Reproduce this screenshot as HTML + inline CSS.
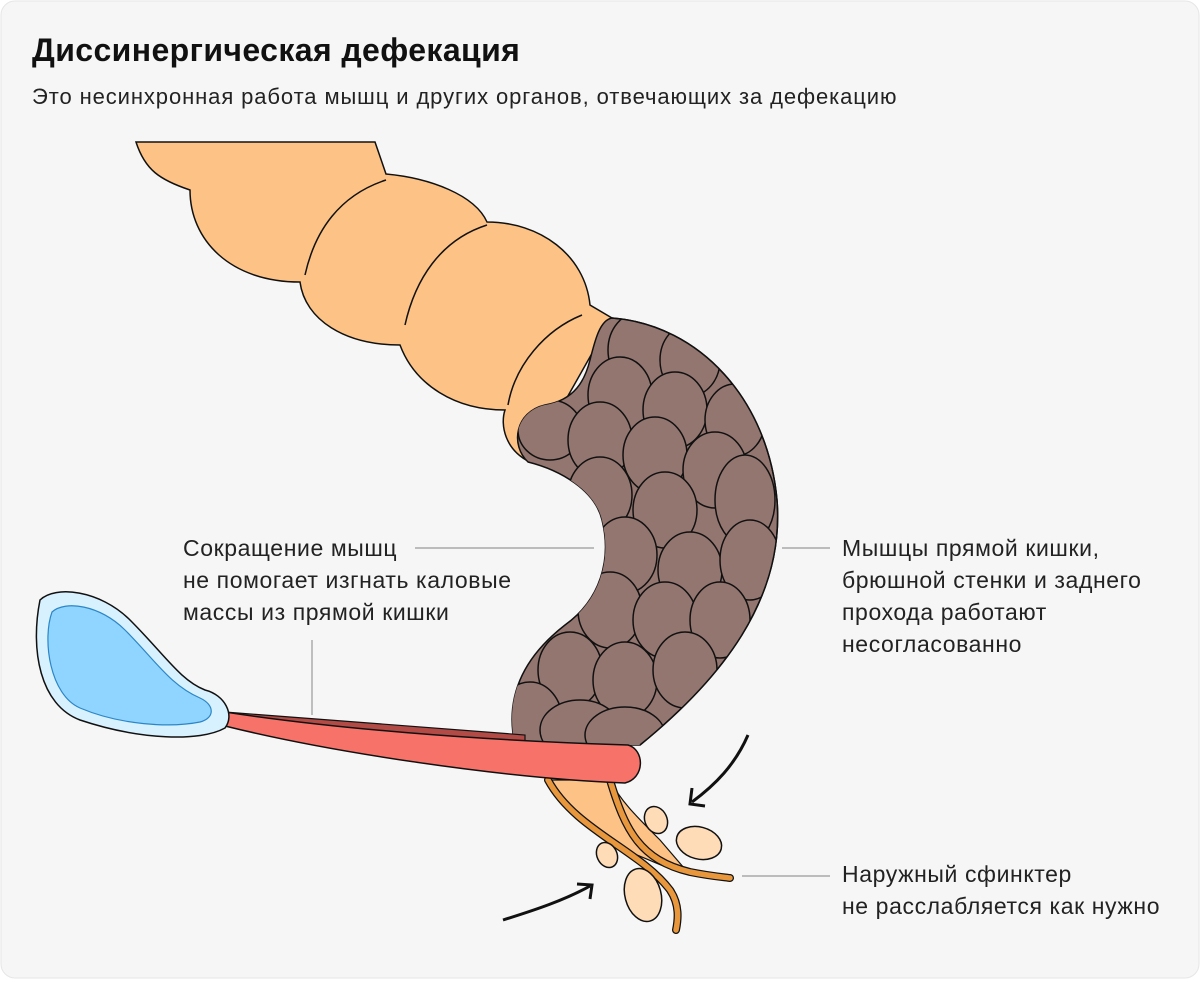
<!DOCTYPE html>
<html><head><meta charset="utf-8"><style>
body{margin:0;background:#fff;}
.wrap{width:1200px;height:979px;position:relative;font-family:"Liberation Sans",sans-serif;}
</style></head><body><div class="wrap">
<svg width="1200" height="979" viewBox="0 0 1200 979" xmlns="http://www.w3.org/2000/svg" font-family="Liberation Sans, sans-serif">
<rect x="1" y="1" width="1198" height="977" rx="14" fill="#f6f6f6" stroke="#e6e6e6"/>
<text x="32" y="61" font-size="32" font-weight="bold" fill="#111" letter-spacing="0.4">Диссинергическая дефекация</text>
<text x="32" y="104" font-size="22" fill="#222" letter-spacing="0.9">Это несинхронная работа мышц и других органов, отвечающих за дефекацию</text>

<path d="M136,142 L375,142 L386,174 C430,178 475,195 487,222 C540,222 585,255 590,305 L612,318 L560,410 L530,462 C505,450 500,425 505,410 C455,410 415,385 400,345 C345,345 305,320 300,282 C230,282 190,240 190,190 C160,180 145,170 136,142 Z" fill="#fdc285" stroke="#111" stroke-width="1.5"/>
<path d="M386,180 C340,195 315,230 305,275" fill="none" stroke="#111" stroke-width="1.5"/>
<path d="M487,225 C440,240 415,280 405,325" fill="none" stroke="#111" stroke-width="1.5"/>
<path d="M582,315 C545,330 515,365 508,405" fill="none" stroke="#111" stroke-width="1.5"/>

<defs><clipPath id="cb"><path d="M612,318 C700,325 768,400 777,500 C785,600 720,680 640,745 L515,745 C505,700 520,660 565,625 C600,600 612,560 602,520 C595,490 560,470 528,462 C510,445 515,412 545,405 C575,400 585,380 590,360 C595,340 600,320 612,318 Z"/></clipPath></defs>
<path d="M612,318 C700,325 768,400 777,500 C785,600 720,680 640,745 L515,745 C505,700 520,660 565,625 C600,600 612,560 602,520 C595,490 560,470 528,462 C510,445 515,412 545,405 C575,400 585,380 590,360 C595,340 600,320 612,318 Z" fill="#947670" stroke="#111" stroke-width="1.5"/>
<g clip-path="url(#cb)" fill="#947670" stroke="#111" stroke-width="1.5">
<ellipse cx="640" cy="350" rx="32" ry="38"/><ellipse cx="690" cy="360" rx="30" ry="36"/>
<ellipse cx="620" cy="395" rx="32" ry="38"/><ellipse cx="675" cy="410" rx="32" ry="38"/><ellipse cx="735" cy="420" rx="30" ry="36"/>
<ellipse cx="550" cy="430" rx="32" ry="30"/><ellipse cx="600" cy="440" rx="32" ry="38"/><ellipse cx="655" cy="455" rx="32" ry="38"/><ellipse cx="715" cy="470" rx="32" ry="38"/>
<ellipse cx="600" cy="495" rx="32" ry="38"/><ellipse cx="665" cy="510" rx="32" ry="38"/><ellipse cx="745" cy="500" rx="30" ry="45"/>
<ellipse cx="625" cy="555" rx="32" ry="38"/><ellipse cx="690" cy="570" rx="32" ry="38"/><ellipse cx="750" cy="560" rx="30" ry="40"/>
<ellipse cx="610" cy="610" rx="32" ry="38"/><ellipse cx="665" cy="620" rx="32" ry="38"/><ellipse cx="720" cy="620" rx="30" ry="38"/>
<ellipse cx="570" cy="670" rx="32" ry="38"/><ellipse cx="625" cy="680" rx="32" ry="38"/><ellipse cx="685" cy="670" rx="32" ry="38"/>
<ellipse cx="530" cy="720" rx="32" ry="38"/><ellipse cx="580" cy="730" rx="40" ry="30"/><ellipse cx="625" cy="735" rx="40" ry="28"/>
</g>
<path d="M612,318 C700,325 768,400 777,500 C785,600 720,680 640,745" fill="none" stroke="#111" stroke-width="1.5"/>

<path d="M548,780 C565,810 590,830 625,850 C650,860 670,870 690,875 L660,840 C635,815 620,800 610,780 Z" fill="#fdc285" stroke="#111" stroke-width="1.2"/>
<path d="M548,780 C575,830 640,850 670,890 C680,905 678,920 676,930" fill="none" stroke="#111" stroke-width="8" stroke-linecap="round"/>
<path d="M548,780 C575,830 640,850 670,890 C680,905 678,920 676,930" fill="none" stroke="#e8973c" stroke-width="5.5" stroke-linecap="round"/>
<path d="M610,780 C625,830 640,860 690,872 C710,876 722,877 730,878" fill="none" stroke="#111" stroke-width="8" stroke-linecap="round"/>
<path d="M610,780 C625,830 640,860 690,872 C710,876 722,877 730,878" fill="none" stroke="#e8973c" stroke-width="5.5" stroke-linecap="round"/>
<g fill="#ffdcb8" stroke="#111" stroke-width="1.5">
<ellipse cx="656" cy="820" rx="11" ry="14" transform="rotate(-25 656 820)"/>
<ellipse cx="699" cy="843" rx="23" ry="16" transform="rotate(15 699 843)"/>
<ellipse cx="607" cy="855" rx="10" ry="13" transform="rotate(-25 607 855)"/>
<ellipse cx="643" cy="895" rx="18" ry="27" transform="rotate(-15 643 895)"/>
</g>
<path d="M748,735 C735,765 715,785 692,802" fill="none" stroke="#111" stroke-width="3"/>
<path d="M692,788 L690,804 L705,806" fill="none" stroke="#111" stroke-width="3"/>
<path d="M503,920 C535,910 565,900 590,886" fill="none" stroke="#111" stroke-width="3"/>
<path d="M577,884 L592,885 L590,899" fill="none" stroke="#111" stroke-width="3"/>

<path d="M225,712 L525,735 L525,742 L225,722 Z" fill="#b24a45" stroke="#111" stroke-width="1.2"/>
<path d="M225,712 C330,728 470,740 628,745 C645,750 645,778 625,783 C500,778 330,752 225,726 Z" fill="#f7736a" stroke="#111" stroke-width="1.5"/>
<path d="M40,600 C55,585 100,590 130,620 C165,655 180,680 205,690 C225,695 235,715 225,728 C200,742 140,740 80,720 C40,705 30,650 40,600 Z" fill="#d8f1ff" stroke="#111" stroke-width="1.5"/>
<path d="M52,612 C65,600 100,605 125,630 C155,660 170,685 200,698 C215,705 215,718 200,722 C170,728 120,725 80,708 C50,695 42,640 52,612 Z" fill="#8fd5ff" stroke="#2c86c6" stroke-width="1.2"/>

<g stroke="#999" stroke-width="1.2">
<line x1="415" y1="548" x2="594" y2="548"/>
<line x1="312" y1="640" x2="312" y2="715"/>
<line x1="782" y1="548" x2="830" y2="548"/>
<line x1="742" y1="876" x2="830" y2="876"/>
</g>
<g font-size="23" fill="#222" letter-spacing="0.6">
<text x="183" y="556">Сокращение мышц</text>
<text x="183" y="588">не помогает изгнать каловые</text>
<text x="183" y="620">массы из прямой кишки</text>
<text x="842" y="556">Мышцы прямой кишки,</text>
<text x="842" y="588">брюшной стенки и заднего</text>
<text x="842" y="620">прохода работают</text>
<text x="842" y="652">несогласованно</text>
<text x="842" y="882">Наружный сфинктер</text>
<text x="842" y="914">не расслабляется как нужно</text>
</g>
</svg>
</div></body></html>
